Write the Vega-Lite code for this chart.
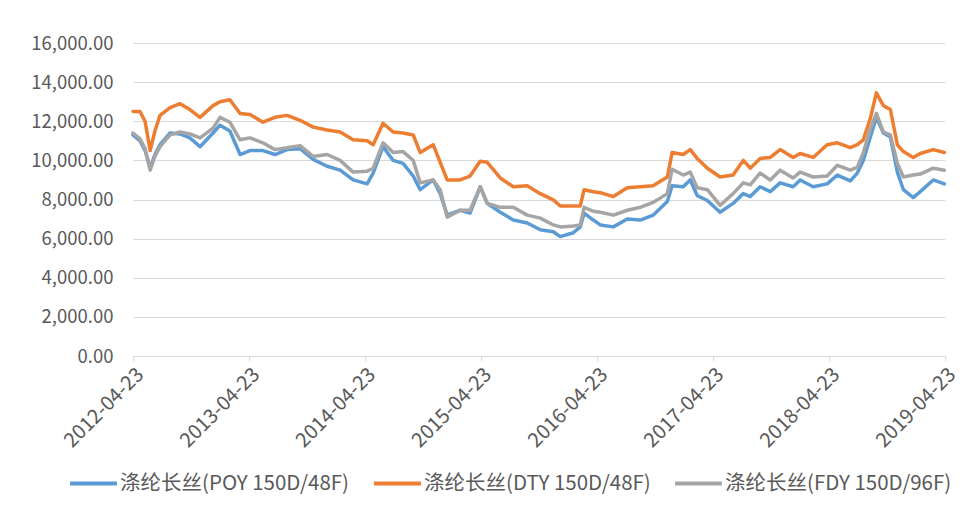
{
  "$schema": "https://vega.github.io/schema/vega-lite/v6.json",
  "width": 812,
  "height": 313,
  "autosize": {"type": "none"},
  "padding": {"left": 133, "top": 43, "right": 34, "bottom": 171},
  "background": "white",
  "config": {"view": {"stroke": null}, "font": "Noto Sans CJK SC"},
  "data": {"values": [
    {"date": "2012-04-23", "poy": 11300, "dty": 12500, "fdy": 11400},
    {"date": "2012-05-15", "poy": 11000, "dty": 12500, "fdy": 11100},
    {"date": "2012-05-31", "poy": 10500, "dty": 12000, "fdy": 10600},
    {"date": "2012-06-16", "poy": 9600, "dty": 10500, "fdy": 9500},
    {"date": "2012-07-01", "poy": 10300, "dty": 11500, "fdy": 10200},
    {"date": "2012-07-17", "poy": 10800, "dty": 12300, "fdy": 10700},
    {"date": "2012-08-18", "poy": 11400, "dty": 12700, "fdy": 11300},
    {"date": "2012-09-18", "poy": 11350, "dty": 12900, "fdy": 11450},
    {"date": "2012-10-19", "poy": 11150, "dty": 12600, "fdy": 11350},
    {"date": "2012-11-20", "poy": 10700, "dty": 12200, "fdy": 11150},
    {"date": "2012-12-31", "poy": 11400, "dty": 12800, "fdy": 11650},
    {"date": "2013-01-22", "poy": 11800, "dty": 13000, "fdy": 12200},
    {"date": "2013-02-22", "poy": 11500, "dty": 13100, "fdy": 11950},
    {"date": "2013-03-26", "poy": 10300, "dty": 12400, "fdy": 11050},
    {"date": "2013-04-26", "poy": 10500, "dty": 12350, "fdy": 11150},
    {"date": "2013-06-06", "poy": 10500, "dty": 11950, "fdy": 10900},
    {"date": "2013-07-14", "poy": 10300, "dty": 12200, "fdy": 10550},
    {"date": "2013-08-21", "poy": 10550, "dty": 12300, "fdy": 10650},
    {"date": "2013-10-01", "poy": 10600, "dty": 12050, "fdy": 10750},
    {"date": "2013-11-11", "poy": 10050, "dty": 11700, "fdy": 10200},
    {"date": "2013-12-25", "poy": 9700, "dty": 11550, "fdy": 10300},
    {"date": "2014-02-04", "poy": 9500, "dty": 11450, "fdy": 10000},
    {"date": "2014-03-17", "poy": 9000, "dty": 11050, "fdy": 9400},
    {"date": "2014-04-30", "poy": 8800, "dty": 11000, "fdy": 9450},
    {"date": "2014-05-19", "poy": 9350, "dty": 10800, "fdy": 9600},
    {"date": "2014-06-19", "poy": 10700, "dty": 11900, "fdy": 10900},
    {"date": "2014-07-21", "poy": 10000, "dty": 11450, "fdy": 10400},
    {"date": "2014-08-21", "poy": 9850, "dty": 11400, "fdy": 10450},
    {"date": "2014-09-22", "poy": 9200, "dty": 11300, "fdy": 10000},
    {"date": "2014-10-14", "poy": 8500, "dty": 10400, "fdy": 8850},
    {"date": "2014-11-24", "poy": 9000, "dty": 10800, "fdy": 9000},
    {"date": "2014-12-16", "poy": 8300, "dty": 9900, "fdy": 8500},
    {"date": "2015-01-07", "poy": 7200, "dty": 9000, "fdy": 7100},
    {"date": "2015-02-17", "poy": 7450, "dty": 9000, "fdy": 7450},
    {"date": "2015-03-20", "poy": 7300, "dty": 9200, "fdy": 7450},
    {"date": "2015-04-21", "poy": 8650, "dty": 9950, "fdy": 8650},
    {"date": "2015-05-13", "poy": 7800, "dty": 9900, "fdy": 7800},
    {"date": "2015-06-23", "poy": 7350, "dty": 9100, "fdy": 7600},
    {"date": "2015-08-03", "poy": 6950, "dty": 8650, "fdy": 7600},
    {"date": "2015-09-16", "poy": 6800, "dty": 8700, "fdy": 7200},
    {"date": "2015-10-27", "poy": 6450, "dty": 8300, "fdy": 7050},
    {"date": "2015-12-07", "poy": 6350, "dty": 7980, "fdy": 6700},
    {"date": "2015-12-29", "poy": 6100, "dty": 7670, "fdy": 6600},
    {"date": "2016-02-08", "poy": 6300, "dty": 7670, "fdy": 6650},
    {"date": "2016-03-01", "poy": 6600, "dty": 7670, "fdy": 6700},
    {"date": "2016-03-13", "poy": 7300, "dty": 8500, "fdy": 7600},
    {"date": "2016-04-11", "poy": 6950, "dty": 8400, "fdy": 7400},
    {"date": "2016-05-03", "poy": 6700, "dty": 8350, "fdy": 7350},
    {"date": "2016-06-13", "poy": 6600, "dty": 8150, "fdy": 7200},
    {"date": "2016-07-27", "poy": 7000, "dty": 8600, "fdy": 7450},
    {"date": "2016-09-06", "poy": 6950, "dty": 8650, "fdy": 7600},
    {"date": "2016-10-16", "poy": 7200, "dty": 8700, "fdy": 7850},
    {"date": "2016-11-30", "poy": 7900, "dty": 9150, "fdy": 8300},
    {"date": "2016-12-15", "poy": 8700, "dty": 10400, "fdy": 9550},
    {"date": "2017-01-19", "poy": 8650, "dty": 10300, "fdy": 9250},
    {"date": "2017-02-10", "poy": 9000, "dty": 10550, "fdy": 9400},
    {"date": "2017-03-04", "poy": 8200, "dty": 10100, "fdy": 8600},
    {"date": "2017-04-05", "poy": 7950, "dty": 9600, "fdy": 8500},
    {"date": "2017-05-15", "poy": 7350, "dty": 9150, "fdy": 7700},
    {"date": "2017-06-25", "poy": 7800, "dty": 9250, "fdy": 8300},
    {"date": "2017-07-27", "poy": 8300, "dty": 10000, "fdy": 8850},
    {"date": "2017-08-18", "poy": 8150, "dty": 9600, "fdy": 8750},
    {"date": "2017-09-18", "poy": 8650, "dty": 10100, "fdy": 9350},
    {"date": "2017-10-20", "poy": 8400, "dty": 10150, "fdy": 9000},
    {"date": "2017-11-20", "poy": 8850, "dty": 10550, "fdy": 9500},
    {"date": "2017-12-31", "poy": 8650, "dty": 10150, "fdy": 9100},
    {"date": "2018-01-22", "poy": 9000, "dty": 10350, "fdy": 9400},
    {"date": "2018-03-04", "poy": 8650, "dty": 10150, "fdy": 9150},
    {"date": "2018-04-17", "poy": 8800, "dty": 10800, "fdy": 9200},
    {"date": "2018-05-19", "poy": 9250, "dty": 10900, "fdy": 9750},
    {"date": "2018-06-29", "poy": 8950, "dty": 10650, "fdy": 9500},
    {"date": "2018-07-21", "poy": 9350, "dty": 10800, "fdy": 9650},
    {"date": "2018-08-09", "poy": 10000, "dty": 11050, "fdy": 10400},
    {"date": "2018-08-31", "poy": 11200, "dty": 12150, "fdy": 11600},
    {"date": "2018-09-19", "poy": 12200, "dty": 13450, "fdy": 12400},
    {"date": "2018-10-11", "poy": 11400, "dty": 12800, "fdy": 11450},
    {"date": "2018-11-02", "poy": 11200, "dty": 12600, "fdy": 11300},
    {"date": "2018-11-24", "poy": 9400, "dty": 10800, "fdy": 9850},
    {"date": "2018-12-13", "poy": 8500, "dty": 10450, "fdy": 9150},
    {"date": "2019-01-13", "poy": 8100, "dty": 10150, "fdy": 9250},
    {"date": "2019-02-04", "poy": 8400, "dty": 10350, "fdy": 9300},
    {"date": "2019-03-17", "poy": 9000, "dty": 10550, "fdy": 9600},
    {"date": "2019-04-21", "poy": 8800, "dty": 10400, "fdy": 9500}
  ]},
  "transform": [{"fold": ["poy", "dty", "fdy"], "as": ["series", "value"]}],
  "mark": {"type": "line", "strokeWidth": 3.5, "strokeJoin": "round", "strokeCap": "round"},
  "encoding": {
    "x": {
      "field": "date",
      "type": "temporal",
      "scale": {"type": "utc", "domain": [{"year": 2012, "month": 4, "date": 23, "utc": true}, {"year": 2019, "month": 4, "date": 23, "utc": true}]},
      "axis": {
        "title": null,
        "values": [
          {"year": 2012, "month": 4, "date": 23, "utc": true},
          {"year": 2013, "month": 4, "date": 23, "utc": true},
          {"year": 2014, "month": 4, "date": 23, "utc": true},
          {"year": 2015, "month": 4, "date": 23, "utc": true},
          {"year": 2016, "month": 4, "date": 23, "utc": true},
          {"year": 2017, "month": 4, "date": 23, "utc": true},
          {"year": 2018, "month": 4, "date": 23, "utc": true},
          {"year": 2019, "month": 4, "date": 23, "utc": true}
        ],
        "format": "%Y-%m-%d",
        "labelAngle": -45,
        "labelFontSize": 20,
        "labelColor": "#595959",
        "labelPadding": 3,
        "grid": false,
        "domainColor": "#D9D9D9",
        "domainWidth": 1.2,
        "tickColor": "#D9D9D9",
        "tickSize": 5,
        "labelFlush": false,
        "labelOverlap": false
      }
    },
    "y": {
      "field": "value",
      "type": "quantitative",
      "scale": {"domain": [0, 16000], "nice": false},
      "axis": {
        "title": null,
        "values": [0, 2000, 4000, 6000, 8000, 10000, 12000, 14000, 16000],
        "format": ",.2f",
        "domain": false,
        "ticks": false,
        "labelPadding": 20,
        "labelFontSize": 18.5,
        "labelColor": "#595959",
        "gridColor": "#D9D9D9",
        "gridWidth": 1.2
      }
    },
    "color": {
      "field": "series",
      "type": "nominal",
      "sort": null,
      "scale": {"domain": ["poy", "dty", "fdy"], "range": ["#5B9BD5", "#ED7D31", "#A5A5A5"]},
      "legend": {
        "title": null,
        "orient": "none",
        "legendX": -65,
        "legendY": 415,
        "direction": "horizontal",
        "columns": 3,
        "symbolType": "stroke",
        "symbolSize": 2200,
        "symbolStrokeWidth": 4,
        "labelFontSize": 20.5,
        "labelColor": "#595959",
        "labelOffset": 1,
        "columnPadding": 16,
        "labelLimit": 400,
        "labelExpr": "datum.value == 'poy' ? '涤纶长丝(POY 150D/48F)' : datum.value == 'dty' ? '涤纶长丝(DTY 150D/48F)' : '涤纶长丝(FDY 150D/96F)'"
      }
    }
  }
}
